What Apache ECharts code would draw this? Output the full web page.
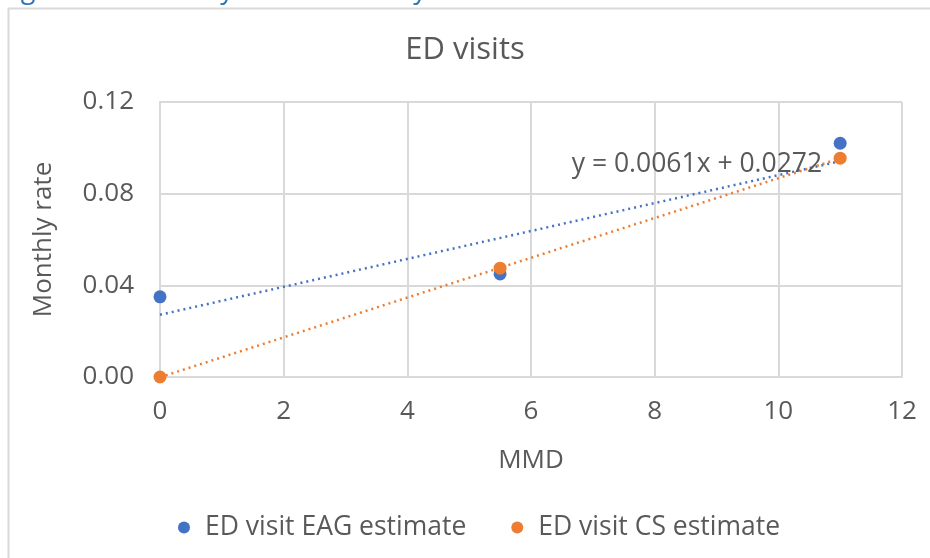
<!DOCTYPE html>
<html>
<head>
<meta charset="utf-8">
<script src="https://cdn.jsdelivr.net/npm/echarts@6/dist/echarts.min.js"></script>
<style>
  html, body { margin: 0; padding: 0; background: #fff; }
  #chart { width: 930px; height: 558px; }
</style>
</head>
<body>
<div id="chart"></div>
<script>
// MMD values (x) and monthly ED visit rates
var mmd = [0, 5.5, 11];
var eagRate = [0.035, 0.045, 0.102];
var csRate = [0, 0.0475, 0.0955];
var xTicks = [0, 2, 4, 6, 8, 10, 12];
var yTicks = [0, 0.04, 0.08, 0.12];

var blue = '#4472c4', orange = '#ed7d31', grey = '#595959', gridGrey = '#d9d9d9';
var font = 'Open Sans';

// least squares fit, as Excel's linear trendline does
function fit(xs, ys) {
  var n = xs.length, mx = 0, my = 0, sxy = 0, sxx = 0;
  for (var i = 0; i < n; i++) { mx += xs[i] / n; my += ys[i] / n; }
  for (var j = 0; j < n; j++) {
    sxy += (xs[j] - mx) * (ys[j] - my);
    sxx += (xs[j] - mx) * (xs[j] - mx);
  }
  var b = sxy / sxx;
  return { slope: b, icept: my - b * mx };
}
function trend(xs, ys) {
  var f = fit(xs, ys);
  var x0 = xs[0], x1 = xs[xs.length - 1];
  return [[x0, f.icept + f.slope * x0], [x1, f.icept + f.slope * x1]];
}
function pairs(xs, ys) { return xs.map(function (x, i) { return [x, ys[i]]; }); }

var eagFit = fit(mmd, eagRate);
var eqText = 'y = ' + eagFit.slope.toFixed(4) + 'x + ' + eagFit.icept.toFixed(4);
var eagTrend = trend(mmd, eagRate);
eagTrend[1] = {
  value: eagTrend[1],
  label: {
    show: true, position: 'left', distance: 18, offset: [0, 3],
    formatter: eqText, color: grey, fontSize: 26.5, fontFamily: font
  }
};

var chart = echarts.init(document.getElementById('chart'));
chart.setOption({
  animation: false,
  backgroundColor: '#fff',
  textStyle: { fontFamily: font },
  graphic: [
    { type: 'rect', shape: { x: 8.5, y: 8.5, width: 940, height: 560 },
      style: { fill: 'none', stroke: gridGrey, lineWidth: 2 }, z: -1 },
    { type: 'text', left: 0, top: -23,
      style: { text: 'Figure 18: Monthly ED visit rate by MMD', fill: '#2e74b5', fontSize: 27, fontFamily: font } }
  ],
  title: {
    text: 'ED visits', left: 'center', top: 30,
    textStyle: { color: grey, fontSize: 31, fontWeight: 'normal', fontFamily: font }
  },
  legend: {
    bottom: 12, left: 173, itemGap: 45, itemWidth: 12, itemHeight: 12,
    textStyle: { color: grey, fontSize: 26.5, fontFamily: font, padding: [0, 0, 0, 10] },
    data: [
      { name: 'ED visit EAG estimate', icon: 'circle' },
      { name: 'ED visit CS estimate', icon: 'circle' }
    ]
  },
  grid: { left: 160, right: 28, top: 102, bottom: 181 },
  xAxis: {
    type: 'value', min: xTicks[0], max: xTicks[xTicks.length - 1], interval: 2,
    name: 'MMD', nameLocation: 'middle', nameGap: 71,
    nameTextStyle: { color: grey, fontSize: 26 },
    axisLine: { lineStyle: { color: gridGrey, width: 2 } },
    axisTick: { show: false },
    axisLabel: { color: grey, fontSize: 26, margin: 22 },
    splitLine: { lineStyle: { color: gridGrey, width: 2 } }
  },
  yAxis: {
    type: 'value', min: yTicks[0], max: yTicks[yTicks.length - 1], interval: 0.04,
    name: 'Monthly rate', nameLocation: 'middle', nameGap: 103,
    nameTextStyle: { color: grey, fontSize: 26 },
    axisLine: { show: true, lineStyle: { color: gridGrey, width: 2 } },
    axisTick: { show: false },
    axisLabel: { color: grey, fontSize: 26, margin: 26, formatter: function (v) { return v.toFixed(2); } },
    splitLine: { lineStyle: { color: gridGrey, width: 2 } }
  },
  series: [
    {
      name: 'ED visit EAG estimate', type: 'line', data: eagTrend, symbol: 'circle', symbolSize: 0,
      lineStyle: { color: blue, width: 2.5, type: [2, 4] }, itemStyle: { color: blue }, z: 2, silent: true
    },
    {
      name: 'ED visit CS estimate', type: 'line', data: trend(mmd, csRate), symbol: 'none',
      lineStyle: { color: orange, width: 2.5, type: [2, 4] }, itemStyle: { color: orange }, z: 2, silent: true
    },
    {
      name: 'ED visit EAG estimate', type: 'scatter', data: pairs(mmd, eagRate),
      symbolSize: 13, itemStyle: { color: blue, opacity: 1 }, z: 3
    },
    {
      name: 'ED visit CS estimate', type: 'scatter', data: pairs(mmd, csRate),
      symbolSize: 13, itemStyle: { color: orange, opacity: 1 }, z: 4
    }
  ]
});
</script>
</body>
</html>
